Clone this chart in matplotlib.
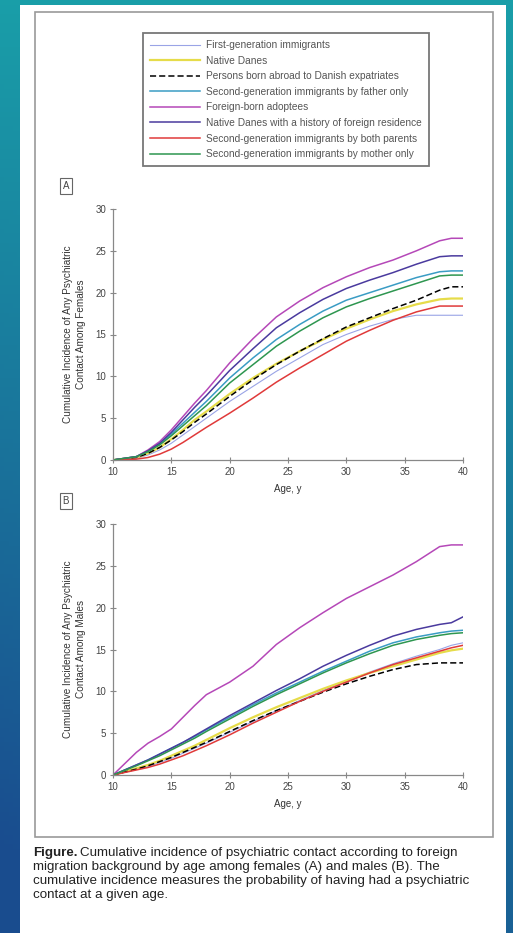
import numpy as np
import matplotlib
matplotlib.use("Agg")
import matplotlib.pyplot as plt
from matplotlib.patches import Rectangle

plt.rcParams['font.family'] = ['Liberation Sans', 'DejaVu Sans']

# ages (years) at which the curves were read
ages = [10, 12, 13, 14, 15, 16, 17, 18, 20, 22, 24, 26, 28, 30, 32, 34, 36, 38, 39, 40]

labels = [
    "First-generation immigrants",
    "Native Danes",
    "Persons born abroad to Danish expatriates",
    "Second-generation immigrants by father only",
    "Foreign-born adoptees",
    "Native Danes with a history of foreign residence",
    "Second-generation immigrants by both parents",
    "Second-generation immigrants by mother only",
]

# females (panel A), cumulative incidence %
first_f = [0, 0.2, 0.6, 1.2, 2.0, 3.0, 4.0, 5.0, 7.0, 8.8, 10.6, 12.2, 13.8, 15.0, 16.0, 16.8, 17.3, 17.3, 17.3, 17.3]
natives_f = [0, 0.3, 0.8, 1.5, 2.5, 3.6, 4.8, 5.8, 7.9, 9.8, 11.5, 13.0, 14.4, 15.7, 16.8, 17.8, 18.6, 19.2, 19.3, 19.3]
expat_f = [0, 0.3, 0.8, 1.5, 2.4, 3.4, 4.5, 5.5, 7.6, 9.6, 11.4, 13.0, 14.5, 15.9, 17.0, 18.1, 19.1, 20.3, 20.7, 20.7]
father_f = [0, 0.4, 1.0, 1.9, 3.1, 4.4, 5.7, 7.0, 9.8, 12.2, 14.4, 16.2, 17.8, 19.1, 20.0, 20.9, 21.8, 22.5, 22.6, 22.6]
adoptees_f = [0, 0.4, 1.2, 2.2, 3.6, 5.2, 6.8, 8.3, 11.6, 14.5, 17.1, 19.0, 20.6, 21.9, 23.0, 23.9, 25.0, 26.2, 26.5, 26.5]
resid_f = [0, 0.4, 1.1, 2.0, 3.3, 4.8, 6.3, 7.7, 10.7, 13.3, 15.8, 17.6, 19.2, 20.5, 21.5, 22.4, 23.4, 24.3, 24.4, 24.4]
both_f = [0, 0.1, 0.3, 0.7, 1.3, 2.1, 3.0, 3.9, 5.6, 7.4, 9.3, 11.0, 12.6, 14.2, 15.5, 16.7, 17.7, 18.4, 18.4, 18.4]
mother_f = [0, 0.4, 1.0, 1.8, 2.9, 4.1, 5.3, 6.5, 9.2, 11.4, 13.6, 15.4, 17.0, 18.3, 19.3, 20.2, 21.1, 22.0, 22.1, 22.1]

# males (panel B)
first_m = [0, 0.7, 1.0, 1.5, 2.0, 2.6, 3.2, 3.8, 5.1, 6.4, 7.7, 8.9, 10.1, 11.2, 12.3, 13.3, 14.2, 15.0, 15.5, 15.8]
natives_m = [0, 0.8, 1.2, 1.7, 2.3, 2.9, 3.5, 4.2, 5.6, 6.9, 8.1, 9.2, 10.3, 11.3, 12.2, 13.0, 13.8, 14.6, 14.9, 15.1]
expat_m = [0, 0.7, 1.1, 1.6, 2.1, 2.7, 3.3, 3.9, 5.2, 6.5, 7.7, 8.8, 9.9, 10.9, 11.8, 12.6, 13.2, 13.4, 13.4, 13.4]
father_m = [0, 1.2, 1.8, 2.5, 3.2, 3.9, 4.6, 5.4, 6.9, 8.4, 9.8, 11.1, 12.4, 13.6, 14.8, 15.8, 16.5, 17.0, 17.2, 17.3]
adoptees_m = [0, 2.7, 3.8, 4.6, 5.5, 6.9, 8.3, 9.6, 11.1, 13.0, 15.6, 17.6, 19.4, 21.1, 22.5, 23.9, 25.5, 27.3, 27.5, 27.5]
resid_m = [0, 1.2, 1.8, 2.5, 3.2, 3.9, 4.7, 5.5, 7.1, 8.6, 10.1, 11.5, 13.0, 14.3, 15.5, 16.6, 17.4, 18.0, 18.2, 18.9]
both_m = [0, 0.6, 0.9, 1.3, 1.8, 2.3, 2.9, 3.5, 4.8, 6.2, 7.5, 8.8, 10.0, 11.1, 12.2, 13.2, 14.0, 14.8, 15.2, 15.5]
mother_m = [0, 1.1, 1.7, 2.3, 3.0, 3.7, 4.4, 5.2, 6.7, 8.2, 9.6, 10.9, 12.2, 13.4, 14.5, 15.5, 16.2, 16.7, 16.9, 17.0]

females = [first_f, natives_f, expat_f, father_f, adoptees_f, resid_f, both_f, mother_f]
males = [first_m, natives_m, expat_m, father_m, adoptees_m, resid_m, both_m, mother_m]

x_ticks = [10, 15, 20, 25, 30, 35, 40]
y_ticks = [0, 5, 10, 15, 20, 25, 30]

styles = [
    dict(color='#9aa4e6', lw=0.8, ls='-'),
    dict(color='#e6dc4a', lw=1.6, ls='-'),
    dict(color='black', lw=1.1, ls=(0, (4, 2))),
    dict(color='#3a9cc4', lw=1.1, ls='-'),
    dict(color='#b548b8', lw=1.1, ls='-'),
    dict(color='#4a3a9e', lw=1.1, ls='-'),
    dict(color='#e03a3a', lw=1.1, ls='-'),
    dict(color='#2e9650', lw=1.1, ls='-'),
]

W, H = 513, 933
fig = plt.figure(figsize=(W / 100, H / 100), dpi=100)

# slide background gradient
bg = fig.add_axes([0, 0, 1, 1], zorder=-10)
yy, xx = np.mgrid[0:1:200j, 0:1:120j]
t = np.clip(0.75 * yy + 0.35 * (1 - xx) * yy, 0, 1)
top = np.array([0.10, 0.62, 0.66])
bot = np.array([0.10, 0.30, 0.56])
img = top[None, None, :] * (1 - t[..., None]) + bot[None, None, :] * t[..., None]
bg.imshow(img, aspect='auto', extent=[0, 1, 0, 1], origin='upper')
bg.set_axis_off()


def px(x0, y0, w, h):
    # pixel box (top-left origin) -> figure fraction
    return [x0 / W, 1 - (y0 + h) / H, w / W, h / H]


fig.patches.append(Rectangle((20 / W, 0), 486 / W, 1 - 5 / H, transform=fig.transFigure,
                             facecolor='white', edgecolor='none', zorder=-5))
fig.patches.append(Rectangle((35 / W, 1 - 837 / H), 458 / W, 825 / H, transform=fig.transFigure,
                             facecolor='none', edgecolor='#9a9a9a', lw=1.2, zorder=-4))


def draw_panel(ax, data, who, letter):
    for vals, st in zip(data, styles):
        ax.plot(ages, vals, **st)
    ax.set_xlim(10, 40)
    ax.set_ylim(0, 30)
    ax.set_xticks(x_ticks)
    ax.set_yticks(y_ticks)
    for s in ['top', 'right']:
        ax.spines[s].set_visible(False)
    for s in ['left', 'bottom']:
        ax.spines[s].set_color('#888888')
        ax.spines[s].set_linewidth(0.9)
    ax.tick_params(direction='inout', length=4, width=0.8, colors='#888888',
                   labelsize=7, labelcolor='#444444', pad=3)
    ax.set_xlabel('Age, y', fontsize=7, color='#333333', labelpad=5)
    ax.set_ylabel('Cumulative Incidence of Any Psychiatric\nContact Among ' + who,
                  fontsize=7.2, color='#333333', labelpad=7, linespacing=1.3)
    ax.patch.set_alpha(0)
    ax.text(-0.135, 1.09, letter, transform=ax.transAxes, fontsize=7, color='#444444',
            ha='center', va='center',
            bbox=dict(boxstyle='square,pad=0.3', fc='white', ec='#666666', lw=0.8))


ax_a = fig.add_axes(px(113, 209, 350, 251))
draw_panel(ax_a, females, 'Females', 'A')
ax_b = fig.add_axes(px(113, 524, 350, 251))
draw_panel(ax_b, males, 'Males', 'B')

handles = ax_a.get_lines()
leg = fig.legend(handles, labels, loc='upper left', bbox_to_anchor=(143 / W, 1 - 33 / H),
                 fontsize=7.3, handlelength=4.9, handletextpad=0.6, labelspacing=0.55,
                 borderpad=0.7, borderaxespad=0, frameon=True, fancybox=False)
leg.get_frame().set_edgecolor('#555555')
leg.get_frame().set_linewidth(1.3)
for txt in leg.get_texts():
    txt.set_color('#555555')

# caption
cap_lines = [
    "Cumulative incidence of psychiatric contact according to foreign",
    "migration background by age among females (A) and males (B). The",
    "cumulative incidence measures the probability of having had a psychiatric",
    "contact at a given age.",
]
fs = 9.6
y0 = 1 - 853 / H
bold = fig.text(33 / W, y0, "Figure.", fontsize=fs, fontweight='bold', color='#222222', va='center')
r = fig.canvas.get_renderer()
bb = bold.get_window_extent(r)
fig.text(bb.x1 / W + 3 / W, y0, cap_lines[0], fontsize=fs, color='#222222', va='center')
for i, line in enumerate(cap_lines[1:]):
    fig.text(33 / W, y0 - (i + 1) * 14 / H, line, fontsize=fs, color='#222222', va='center')

fig.savefig('out.png', dpi=100)
